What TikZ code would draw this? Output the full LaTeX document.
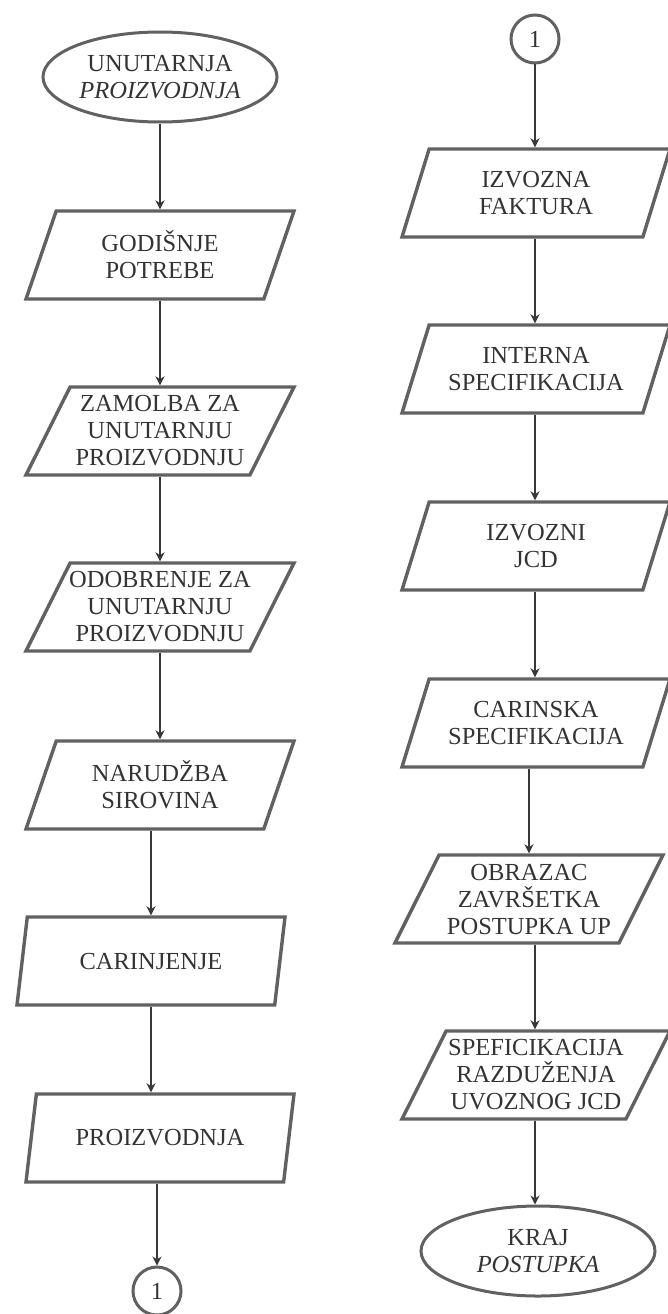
\documentclass[tikz,border=0pt]{standalone}
\usepackage{fontspec}
\setmainfont{Liberation Serif}
\usetikzlibrary{shapes.geometric,arrows.meta}
\newcommand\zb[1]{\makebox[0pt]{#1}}
\begin{document}
\begin{tikzpicture}[x=1pt,y=-1pt,
  every node/.style={font=\fontsize{24.5}{27}\selectfont, text=black!80, align=center, inner sep=0pt},
  para/.style={trapezium, trapezium left angle=58, trapezium right angle=122,
    trapezium stretches body=true, minimum width=268pt, minimum height=88pt,
    draw=black!62, line width=3.4pt},
  term/.style={ellipse, draw=black!62, line width=3pt, minimum width=234pt, minimum height=90pt},
  conn/.style={circle, draw=black!62, line width=3pt, minimum size=48pt},
  flow/.style={draw=black!78, line width=2.6pt, -{Stealth[length=9pt,width=9pt]}}
]
\useasboundingbox (0,0) rectangle (668,1314);

% left column
\node[term] (s)  at (160,77)   {\zb{UNUTARNJA}\\\zb{\itshape PROIZVODNJA}};
\node[para] (a1) at (160,255)  {\zb{GODIŠNJE}\\\zb{POTREBE}};
\node[para] (a2) at (160,431)  {\zb{ZAMOLBA ZA}\\\zb{UNUTARNJU}\\\zb{PROIZVODNJU}};
\node[para] (a3) at (160,607)  {\zb{ODOBRENJE ZA}\\\zb{UNUTARNJU}\\\zb{PROIZVODNJU}};
\node[para] (a4) at (160,785)  {\zb{NARUDŽBA}\\\zb{SIROVINA}};
\node[para] (a5) at (151,961)  {\zb{CARINJENJE}};
\node[para] (a6) at (160,1138) {\zb{PROIZVODNJA}};
\node[conn] (c1) at (157,1291) {1};

% right column
\node[conn] (c2) at (535,39)   {1};
\node[para] (b1) at (536,193)  {\zb{IZVOZNA}\\\zb{FAKTURA}};
\node[para] (b2) at (536,369)  {\zb{INTERNA}\\\zb{SPECIFIKACIJA}};
\node[para] (b3) at (536,546)  {\zb{IZVOZNI}\\\zb{JCD}};
\node[para] (b4) at (536,723)  {\zb{CARINSKA}\\\zb{SPECIFIKACIJA}};
\node[para] (b5) at (529,899)  {\zb{OBRAZAC}\\\zb{ZAVRŠETKA}\\\zb{POSTUPKA UP}};
\node[para] (b6) at (536,1075) {\zb{SPEFICIKACIJA}\\\zb{RAZDUŽENJA}\\\zb{UVOZNOG JCD}};
\node[term] (e)  at (538,1251) {\zb{KRAJ}\\\zb{\itshape POSTUPKA}};

% connectors left
\draw[flow] (s.south) -- (s.south |- a1.north);
\draw[flow] (a1.south) -- (a1.south |- a2.north);
\draw[flow] (a2.south) -- (a2.south |- a3.north);
\draw[flow] (a3.south) -- (a3.south |- a4.north);
\draw[flow] (a5.north |- a4.south) -- (a5.north);
\draw[flow] (a5.south) -- (a5.south |- a6.north);
\draw[flow] (c1.north |- a6.south) -- (c1.north);

% connectors right
\draw[flow] (c2.south) -- (c2.south |- b1.north);
\draw[flow] (c2.south |- b1.south) -- (c2.south |- b2.north);
\draw[flow] (c2.south |- b2.south) -- (c2.south |- b3.north);
\draw[flow] (c2.south |- b3.south) -- (c2.south |- b4.north);
\draw[flow] (b5.north |- b4.south) -- (b5.north);
\draw[flow] (c2.south |- b5.south) -- (c2.south |- b6.north);
\draw[flow] (c2.south |- b6.south) -- (c2.south |- e.north);
\end{tikzpicture}
\end{document}
